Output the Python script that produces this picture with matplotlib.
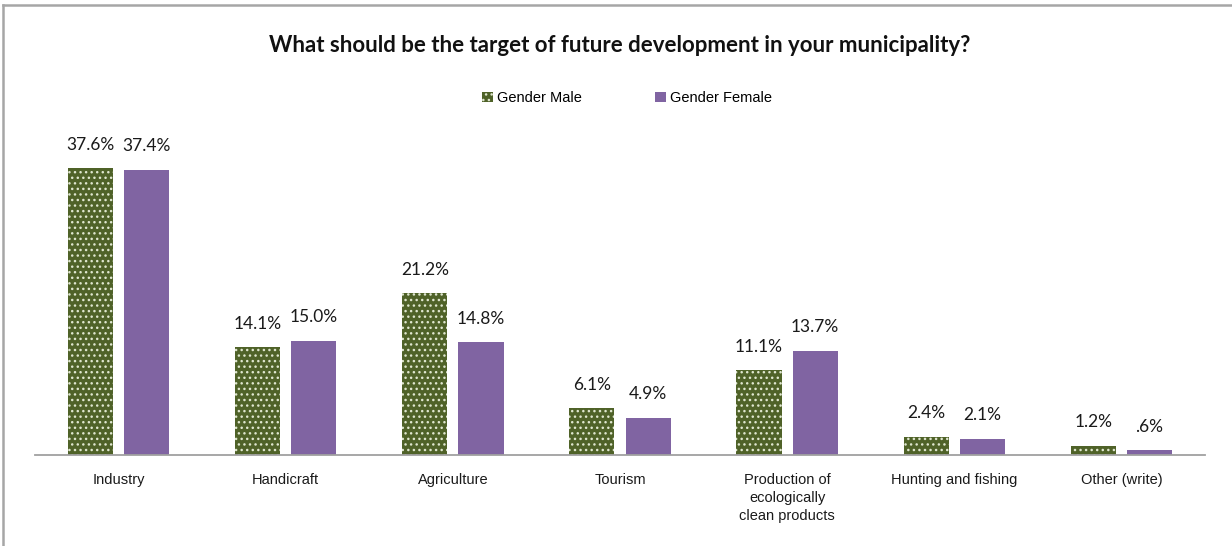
import matplotlib
matplotlib.use("Agg")
import matplotlib.pyplot as plt
import numpy as np
from matplotlib.patches import Patch
from matplotlib.lines import Line2D

categories = ["Industry", "Handicraft", "Agriculture", "Tourism",
              "Production of\necologically\nclean products", "Hunting and fishing", "Other (write)"]
male = [37.6, 14.1, 21.2, 6.1, 11.1, 2.4, 1.2]
female = [37.4, 15.0, 14.8, 4.9, 13.7, 2.1, 0.6]
male_labels = ["37.6%", "14.1%", "21.2%", "6.1%", "11.1%", "2.4%", "1.2%"]
female_labels = ["37.4%", "15.0%", "14.8%", "4.9%", "13.7%", "2.1%", ".6%"]
series_names = ["Gender Male", "Gender Female"]

MALE_C = "#4f6228"
FEMALE_C = "#8064a2"
W, H = 1232, 546
plt.rcParams['hatch.linewidth'] = 1.0

fig = plt.figure(figsize=(W/100, H/100), dpi=100)
ax = fig.add_axes([35/W, (H-455)/H, 1170/W, 305/H])

x = np.arange(len(categories))
bw = 0.27
off = 0.168
bm = ax.bar(x - off, male, bw, color=MALE_C, edgecolor="#dfe6cf", linewidth=0, hatch="...")
bf = ax.bar(x + off, female, bw, color=FEMALE_C, linewidth=0)

for xi, v, lab in zip(x - off, male, male_labels):
    ax.annotate(lab, (xi, v), xytext=(0, 17), textcoords="offset points",
                ha="center", va="center", fontsize=12.5, family="Lato", color="#1a1a1a")
for xi, v, lab in zip(x + off, female, female_labels):
    ax.annotate(lab, (xi, v), xytext=(0, 17), textcoords="offset points",
                ha="center", va="center", fontsize=12.5, family="Lato", color="#1a1a1a")

ax.set_xlim(-0.5, len(categories) - 0.5)
ax.set_ylim(0, 40)
for s in ["top", "right", "left"]:
    ax.spines[s].set_visible(False)
ax.spines["bottom"].set_color("#a0a0a0")
ax.spines["bottom"].set_linewidth(1.3)
ax.set_yticks([])
ax.set_xticks(x)
ax.set_xticklabels(categories, fontsize=10.5, family="Liberation Sans", color="#1a1a1a",
                   va="top", linespacing=1.35)
ax.tick_params(axis="x", length=0, pad=13)

fig.text(620/W, 1 - 45/H, "What should be the target of future development in your municipality?",
         ha="center", va="center", fontsize=16, fontweight="bold", family="Lato", color="#111111")

handles = [Patch(facecolor=MALE_C, edgecolor="#dfe6cf", linewidth=0, hatch="..."),
           Patch(facecolor=FEMALE_C, linewidth=0)]
fig.legend(handles, series_names, loc="center", bbox_to_anchor=(627/W, 1 - 98/H), ncol=2,
           frameon=False, handlelength=0.75, handleheight=0.75, handletextpad=0.3,
           columnspacing=5.0, prop={"family": "Liberation Sans", "size": 10.5})

fig.add_artist(Line2D([3/W, 3/W], [0, 1 - 5/H], transform=fig.transFigure, color="#a6a6a6", lw=1.8))
fig.add_artist(Line2D([3/W, 1], [1 - 5/H, 1 - 5/H], transform=fig.transFigure, color="#a6a6a6", lw=1.8))

fig.savefig("out.png", dpi=100)
